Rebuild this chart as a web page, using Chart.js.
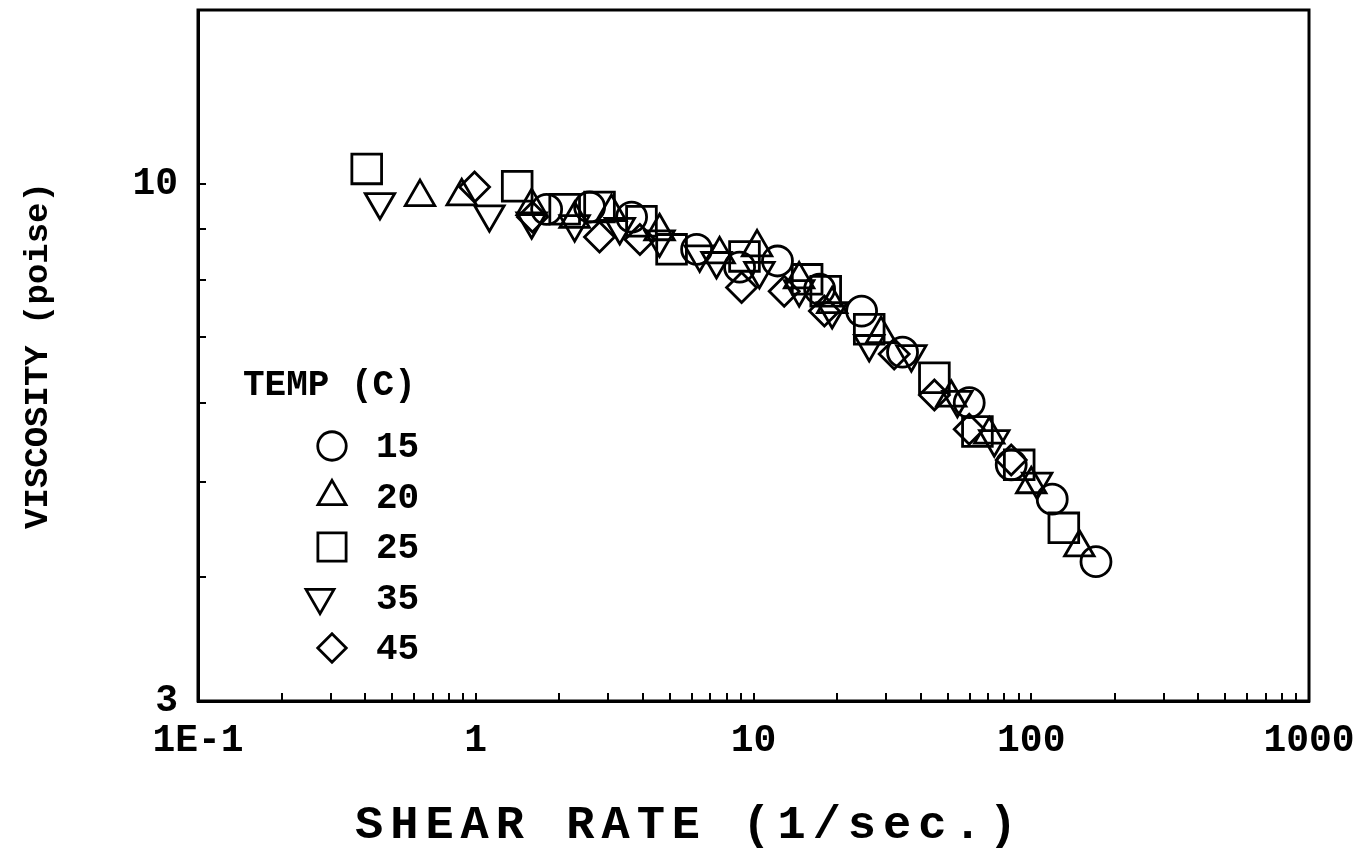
<!DOCTYPE html>
<html lang="en">
<head>
<meta charset="UTF-8">
<title>Viscosity vs Shear Rate</title>
<script src="https://cdn.jsdelivr.net/npm/chart.js@4"></script>
<style>
  html, body { margin: 0; padding: 0; background: #fff; }
</style>
</head>
<body>
<canvas id="viscChart" width="1363" height="859"></canvas>
<script>
// values: shear rate (1/sec.) and viscosity (poise)
const tempLabels = ['15', '20', '25', '35', '45'];

const shear15 = [1.80, 2.57, 3.64, 6.24, 8.91, 12.2, 17.3, 24.5, 34.4, 59.8, 84.7, 119, 171];
const visc15  = [9.43, 9.48, 9.26, 8.59, 8.24, 8.36, 7.83, 7.44, 6.76, 6.01, 5.20, 4.80, 4.15];

const shear20 = [0.63, 0.89, 1.59, 2.27, 3.08, 4.59, 7.55, 10.3, 14.6, 19.2, 28.8, 51.5, 70.6, 100, 149];
const visc20  = [9.70, 9.72, 9.50, 9.22, 9.37, 8.96, 8.49, 8.63, 8.01, 7.56, 7.05, 6.08, 5.58, 4.97, 4.29];

const shear25 = [0.405, 1.41, 2.09, 2.79, 3.95, 5.07, 9.28, 15.6, 18.2, 26.1, 44.8, 64, 90.5, 131];
const visc25  = [10.36, 9.95, 9.43, 9.48, 9.17, 8.59, 8.45, 8.01, 7.79, 7.13, 6.37, 5.62, 5.20, 4.49];

const shear35 = [0.452, 1.12, 1.59, 2.27, 3.30, 4.59, 6.4, 7.36, 10.5, 14.6, 19.2, 26.1, 37, 54.2, 73.6, 105];
const visc35  = [9.59, 9.32, 9.17, 9.11, 9.05, 8.79, 8.49, 8.36, 8.17, 7.83, 7.44, 6.89, 6.73, 6.05, 5.52, 5.00];

const shear45 = [0.99, 1.6, 2.79, 3.9, 9.06, 12.9, 18, 32.1, 44.8, 59.8, 84.7];
const visc45  = [9.93, 9.26, 8.84, 8.79, 7.86, 7.79, 7.44, 6.73, 6.12, 5.65, 5.26];

// labelled ticks
const xTickValues = [0.1, 1, 10, 100, 1000];
const xTickLabels = ['1E-1', '1', '10', '100', '1000'];
const yTickValues = [3, 10];
const yTickLabels = ['3', '10'];

const markers = [
  { style: 'circle',   radius: 15, rotation: 0 },
  { style: 'triangle', radius: 17, rotation: 0 },
  { style: 'rect',     radius: 21, rotation: 0 },
  { style: 'triangle', radius: 17, rotation: 180 },
  { style: 'rectRot',  radius: 15, rotation: 0 }
];

const FONT = '"Liberation Mono", "Courier New", monospace';

function pairs(xs, ys) {
  return xs.map((x, i) => ({ x: x, y: ys[i] }));
}

const seriesData = [
  pairs(shear15, visc15),
  pairs(shear20, visc20),
  pairs(shear25, visc25),
  pairs(shear35, visc35),
  pairs(shear45, visc45)
];

// 1..9 x 10^n tick marks between lo and hi
function logTicks(lo, hi) {
  const out = [];
  for (let e = Math.floor(Math.log10(lo)); e <= Math.ceil(Math.log10(hi)); e++) {
    for (let m = 1; m <= 9; m++) {
      const v = +(m * Math.pow(10, e)).toPrecision(6);
      if (v >= lo - 1e-9 && v <= hi + 1e-9) out.push(v);
    }
  }
  return out;
}

// frame, x title and legend drawn on the canvas
const framePlugin = {
  id: 'frame',
  afterDraw(chart) {
    const ctx = chart.ctx;
    const a = chart.chartArea;
    ctx.save();
    ctx.strokeStyle = '#000';
    ctx.lineWidth = 3;
    ctx.strokeRect(a.left, a.top, a.right - a.left, a.bottom - a.top);

    ctx.fillStyle = '#000';
    ctx.textBaseline = 'middle';

    // x axis title, sits a bit left of the plot centre
    ctx.font = 'bold 47px ' + FONT;
    ctx.textAlign = 'left';
    ctx.letterSpacing = '7px';
    ctx.fillText('SHEAR RATE (1/sec.)', 355, 826);
    ctx.letterSpacing = '0px';

    // legend block
    ctx.font = 'bold 36px ' + FONT;
    const lx = a.left + 45;
    ctx.fillText('TEMP (C)', lx, 386);
    const mx = [134, 134, 134, 122, 134];
    tempLabels.forEach((t, i) => {
      const y = 446 + i * 50.5;
      const m = markers[i];
      ctx.lineWidth = 2.8;
      ctx.strokeStyle = '#000';
      ctx.fillStyle = 'rgba(0,0,0,0)';
      Chart.helpers.drawPoint(ctx, {
        pointStyle: m.style, radius: m.radius * 0.95, rotation: m.rotation, borderWidth: 2.8
      }, a.left + mx[i], y);
      ctx.fillStyle = '#000';
      ctx.fillText(t, a.left + 178, y + 2);
    });
    ctx.restore();
  }
};

const ctx = document.getElementById('viscChart').getContext('2d');

new Chart(ctx, {
  type: 'scatter',
  data: {
    datasets: seriesData.map((d, i) => ({
      label: tempLabels[i],
      data: d,
      showLine: false,
      pointStyle: markers[i].style,
      pointRadius: markers[i].radius,
      pointHoverRadius: markers[i].radius,
      pointRotation: markers[i].rotation,
      pointBorderWidth: 2.8,
      pointBorderColor: '#000',
      pointBackgroundColor: 'rgba(0,0,0,0)'
    }))
  },
  options: {
    responsive: false,
    animation: false,
    events: [],
    layout: { autoPadding: false, padding: { top: 10, right: 54, left: 0, bottom: 0 } },
    plugins: {
      legend: { display: false },
      tooltip: { enabled: false }
    },
    scales: {
      x: {
        type: 'logarithmic',
        min: 0.1,
        max: 1000,
        afterBuildTicks: (s) => { s.ticks = logTicks(0.1, 1000).map(v => ({ value: v })); },
        afterFit: (s) => { s.height = 158; s.paddingLeft = 0; s.paddingRight = 0; },
        grid: { drawOnChartArea: false, drawTicks: true, tickLength: -8, color: '#000', lineWidth: 2 },
        border: { display: true, color: '#000', width: 3 },
        ticks: {
          autoSkip: false,
          maxRotation: 0,
          padding: 26,
          color: '#000',
          font: { family: FONT, size: 38, weight: 'bold' },
          callback: (v) => {
            const k = xTickValues.findIndex(t => Math.abs(t - v) < 1e-9);
            return k >= 0 ? xTickLabels[k] : '';
          }
        },
        title: { display: false }
      },
      y: {
        type: 'logarithmic',
        min: 3,
        max: 15,
        afterBuildTicks: (s) => { s.ticks = logTicks(3, 10).map(v => ({ value: v })); },
        afterFit: (s) => { s.width = 198; s.paddingTop = 0; s.paddingBottom = 0; },
        grid: { drawOnChartArea: false, drawTicks: true, tickLength: -8, color: '#000', lineWidth: 2 },
        border: { display: true, color: '#000', width: 3 },
        ticks: {
          autoSkip: false,
          padding: 28,
          color: '#000',
          font: { family: FONT, size: 38, weight: 'bold' },
          callback: (v) => {
            const k = yTickValues.findIndex(t => Math.abs(t - v) < 1e-9);
            return k >= 0 ? yTickLabels[k] : '';
          }
        },
        title: {
          display: true,
          text: 'VISCOSITY (poise)',
          color: '#000',
          font: { family: FONT, size: 34, weight: 'bold' },
          padding: { top: 18, bottom: 0 }
        }
      }
    }
  },
  plugins: [framePlugin]
});
</script>
</body>
</html>
